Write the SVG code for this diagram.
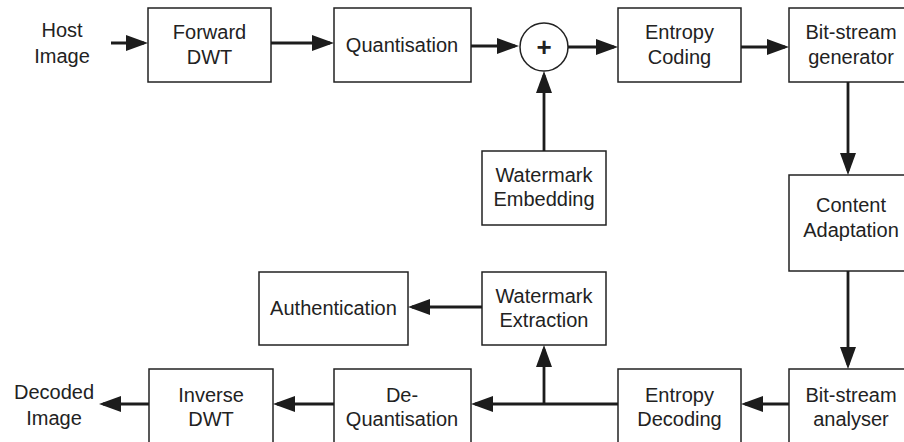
<svg xmlns="http://www.w3.org/2000/svg" width="904" height="442" viewBox="0 0 904 442">
  <style>
    .box { fill: #ffffff; stroke: #222222; stroke-width: 1.5; }
    .lbl { font-family: "Liberation Sans", Arial, sans-serif; font-size: 20px; fill: #222222; text-anchor: middle; }
    .wire { fill: none; stroke: #1c1c1c; stroke-width: 2.8; }
  </style>
  <defs>
    <marker id="head" markerUnits="userSpaceOnUse" markerWidth="22" markerHeight="16" refX="18" refY="8" orient="auto">
      <path d="M0,0 L22,8 L0,16 Z" fill="#1c1c1c"/>
    </marker>
  </defs>
  <rect width="904" height="442" fill="#ffffff"/>

  <!-- free-standing labels -->
  <g id="host-image">
    <text class="lbl" x="62" y="37">Host</text>
    <text class="lbl" x="62" y="63">Image</text>
  </g>
  <g id="decoded-image">
    <text class="lbl" x="54" y="399">Decoded</text>
    <text class="lbl" x="54" y="425">Image</text>
  </g>

  <!-- encoder chain -->
  <g id="forward-dwt">
    <rect class="box" x="148" y="8" width="123" height="74"/>
    <text class="lbl" x="209.5" y="39">Forward</text>
    <text class="lbl" x="209.5" y="64">DWT</text>
  </g>
  <g id="quantisation">
    <rect class="box" x="334" y="8" width="137" height="74"/>
    <text class="lbl" x="402" y="52">Quantisation</text>
  </g>
  <g id="adder">
    <circle cx="544" cy="47" r="24" fill="#ffffff" stroke="#222222" stroke-width="1.5"/>
    <text class="lbl" x="544" y="56" style="font-size:26px;font-weight:bold">+</text>
  </g>
  <g id="entropy-coding">
    <rect class="box" x="618" y="8" width="123" height="74"/>
    <text class="lbl" x="679.5" y="39">Entropy</text>
    <text class="lbl" x="679.5" y="64">Coding</text>
  </g>
  <g id="bitstream-generator">
    <rect class="box" x="789" y="8" width="123" height="74"/>
    <text class="lbl" x="851" y="39">Bit-stream</text>
    <text class="lbl" x="851" y="64">generator</text>
  </g>
  <g id="watermark-embedding">
    <rect class="box" x="482" y="151" width="124" height="74"/>
    <text class="lbl" x="544" y="182">Watermark</text>
    <text class="lbl" x="544" y="206">Embedding</text>
  </g>
  <g id="content-adaptation">
    <rect class="box" x="789" y="175" width="123" height="96"/>
    <text class="lbl" x="851" y="212">Content</text>
    <text class="lbl" x="851" y="237">Adaptation</text>
  </g>

  <!-- decoder chain -->
  <g id="watermark-extraction">
    <rect class="box" x="482" y="272" width="124" height="73"/>
    <text class="lbl" x="544" y="303">Watermark</text>
    <text class="lbl" x="544" y="327">Extraction</text>
  </g>
  <g id="authentication">
    <rect class="box" x="259" y="272" width="149" height="73"/>
    <text class="lbl" x="333.5" y="315">Authentication</text>
  </g>
  <g id="bitstream-analyser">
    <rect class="box" x="789" y="369" width="123" height="80"/>
    <text class="lbl" x="851" y="402">Bit-stream</text>
    <text class="lbl" x="851" y="426">analyser</text>
  </g>
  <g id="entropy-decoding">
    <rect class="box" x="618" y="369" width="123" height="80"/>
    <text class="lbl" x="679.5" y="402">Entropy</text>
    <text class="lbl" x="679.5" y="426">Decoding</text>
  </g>
  <g id="de-quantisation">
    <rect class="box" x="334" y="369" width="137" height="80"/>
    <text class="lbl" x="402" y="402">De-</text>
    <text class="lbl" x="402" y="426">Quantisation</text>
  </g>
  <g id="inverse-dwt">
    <rect class="box" x="149" y="369" width="124" height="80"/>
    <text class="lbl" x="211" y="402">Inverse</text>
    <text class="lbl" x="211" y="426">DWT</text>
  </g>

  <!-- connectors -->
  <g id="connectors">
    <line class="wire" x1="111" y1="43" x2="144" y2="43" marker-end="url(#head)"/>
    <line class="wire" x1="271" y1="43" x2="330" y2="43" marker-end="url(#head)"/>
    <line class="wire" x1="471" y1="46" x2="515" y2="46" marker-end="url(#head)"/>
    <line class="wire" x1="568" y1="47" x2="614" y2="47" marker-end="url(#head)"/>
    <line class="wire" x1="741" y1="47" x2="785" y2="47" marker-end="url(#head)"/>
    <line class="wire" x1="848" y1="82" x2="848" y2="171" marker-end="url(#head)"/>
    <line class="wire" x1="544" y1="151" x2="544" y2="75" marker-end="url(#head)"/>
    <line class="wire" x1="848" y1="271" x2="848" y2="365" marker-end="url(#head)"/>
    <line class="wire" x1="789" y1="404" x2="745" y2="404" marker-end="url(#head)"/>
    <line class="wire" x1="618" y1="404" x2="475" y2="404" marker-end="url(#head)"/>
    <line class="wire" x1="544" y1="404" x2="544" y2="349" marker-end="url(#head)"/>
    <line class="wire" x1="482" y1="307" x2="412" y2="307" marker-end="url(#head)"/>
    <line class="wire" x1="334" y1="404" x2="277" y2="404" marker-end="url(#head)"/>
    <line class="wire" x1="149" y1="404" x2="103" y2="404" marker-end="url(#head)"/>
  </g>
</svg>
